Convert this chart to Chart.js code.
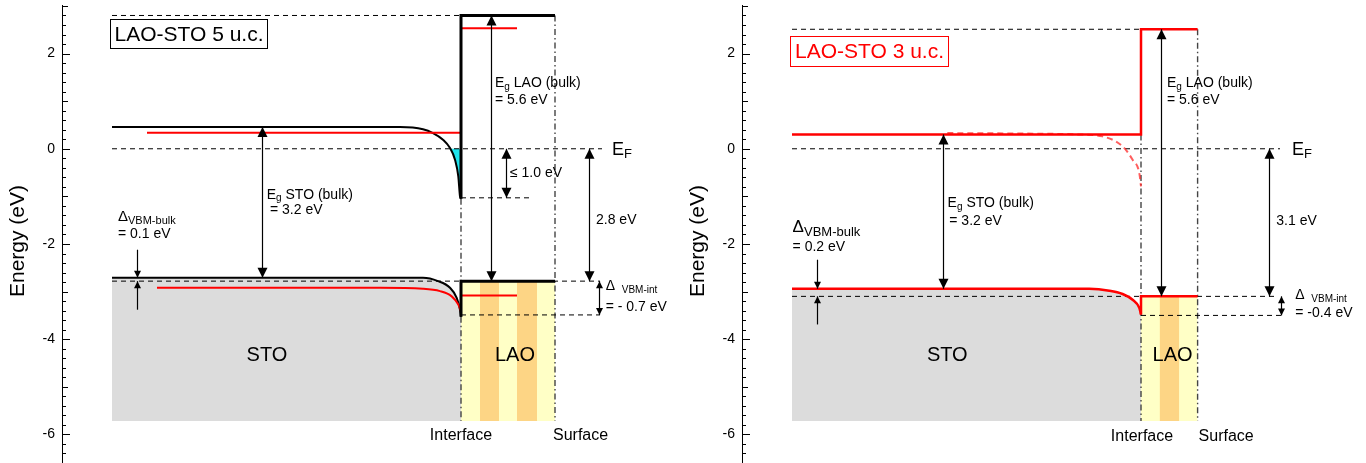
<!DOCTYPE html>
<html>
<head>
<meta charset="utf-8">
<script src="https://cdn.jsdelivr.net/npm/chart.js@4.4.1/dist/chart.umd.min.js"></script>
<style>
  body { margin:0; background:#fff; width:1366px; height:463px; overflow:hidden; position:relative; }
  canvas { position:absolute; top:0; }
  #c5 { left:0; }
  #c3 { left:680px; }
</style>
</head>
<body>
<canvas id="c5" width="683" height="463"></canvas>
<canvas id="c3" width="683" height="463"></canvas>
<script>
// Axe des énergies
const yTickLabels = [-6, -4, -2, 0, 2];
const yMin = -6.6, yMax = 3.02;
const bottomE = -5.72;   // bas du schéma

// ===== LAO-STO 5 u.c. (x = profondeur, interface à 0) =====
const a5_cbBlack  = [[-349,0.455],[-61,0.455],[-38,0.41],[-28,0.33],[-18,0.19],[-11,0.015],[-6,-0.23],[-2.7,-0.58],[-1,-1.0],[0,-1.05]];
const a5_cbRed    = [[-314,0.335],[0,0.335]];
const a5_laoCbRed = [[0,2.53],[56,2.53]];
const a5_laoCb    = [[94,2.8],[0,2.8],[0,-1.05]];
const a5_vbBlack  = [[-349,-2.71],[-38,-2.71],[-23,-2.78],[-11,-2.92],[-4.3,-3.13],[-1,-3.38],[0,-3.53]];
const a5_vbRed    = [[-304,-2.92],[-81,-2.92],[-38,-2.94],[-21,-2.99],[-9.3,-3.10],[-2.7,-3.27],[0,-3.41]];
const a5_laoVbRed = [[0,-3.08],[56,-3.08]];
const a5_laoVb    = [[94,-2.78],[0,-2.78],[0,-3.53]];
const a5_layers   = [0,19,38,56,76,94];
const a5_dashed   = [[[-349,2.8],[0,2.8]], [[-349,0],[141,0]], [[0,-1.03],[69,-1.03]], [[-349,-2.78],[139,-2.78]], [[0,-3.49],[139,-3.49]]];
const a5_dashDot  = [[[0,-1.05],[0,-2.78]], [[0,-3.53],[0,bottomE]], [[94,2.8],[94,bottomE]]];
const a5_electrons = a5_cbBlack.filter(p => p[0] >= -11).map(p => [p[0], Math.min(p[1], 0)]);

// ===== LAO-STO 3 u.c. =====
const a3_cbRed    = [[-349,0.30],[0,0.30],[0,2.51],[56.6,2.51]];
const a3_cbDash   = [[-193.7,0.33],[-121.7,0.32],[-61.7,0.30],[-38.4,0.26],[-18.4,0.05],[-8.4,-0.23],[-1.7,-0.51],[0,-0.79]];
const a3_vbRed    = [[-349,-2.94],[-51.7,-2.94],[-31.7,-2.98],[-18.4,-3.05],[-8.4,-3.17],[-1.7,-3.34],[0,-3.48]];
const a3_laoVbRed = [[0,-3.48],[0,-3.10],[56.6,-3.10]];
const a3_layers   = [0,18.6,38.3,56.6];
const a3_dashed   = [[[-349,2.51],[0,2.51]], [[-349,0],[139,0]], [[-349,-3.1],[134,-3.1]], [[0,-3.5],[141,-3.5]]];
const a3_dashDot  = [[[0,0.30],[0,bottomE]], [[56.6,2.51],[56.6,bottomE]]];

// ===== Flèches et textes (x, y en unités du graphe) =====
const a5_arrows = [
  {x:-199, y0:0.46, y1:-2.71}, {x:30, y0:2.8, y1:-2.78}, {x:44.7, y0:0, y1:-1.03},
  {x:128.3, y0:0, y1:-2.78}, {x:138, y0:-2.78, y1:-3.49, s:1},
  {x:-324, y0:-2.12, y1:-2.71, one:1, s:1}, {x:-324, y0:-3.38, y1:-2.78, one:1, s:1}
];
const a3_arrows = [
  {x:-198.4, y0:0.30, y1:-2.94}, {x:20, y0:2.51, y1:-3.10}, {x:127.6, y0:0, y1:-3.10},
  {x:140.3, y0:-3.10, y1:-3.50, s:1},
  {x:-324.4, y0:-2.33, y1:-2.94, one:1, s:1}, {x:-324.4, y0:-3.69, y1:-3.10, one:1, s:1}
];
const EgSTO = [['E'],['g',1],[' STO (bulk)']];
const EgLAO = [['E'],['g',1],[' LAO (bulk)']];
const EF = [['E'],['F',1]];
const dInt = [['Δ '],[' VBM-int',1]];
const dBulk = [['Δ'],['VBM-bulk',1]];
const a5_texts = [
  {x:-194.3, y:-0.965, t:EgSTO}, {x:-191, y:-1.28, t:'= 3.2 eV'},
  {x:-343, y:-1.43, t:dBulk, size:15}, {x:-343, y:-1.80, t:'= 0.1 eV'},
  {x:34, y:1.38, t:EgLAO}, {x:34, y:1.03, t:'= 5.6 eV'},
  {x:49, y:-0.51, t:'≤ 1.0 eV'}, {x:135, y:-1.49, t:'2.8 eV'},
  {x:151, y:-0.02, t:EF, size:18},
  {x:144.7, y:-2.89, t:dInt}, {x:144.7, y:-3.32, t:'= - 0.7 eV'},
  {x:-194, y:-4.34, t:'STO', size:20, align:'center'}, {x:54, y:-4.34, t:'LAO', size:20, align:'center'},
  {x:0, y:-6.03, t:'Interface', size:16, align:'center'}, {x:92, y:-6.03, t:'Surface', size:16}
];
const a3_texts = [
  {x:-193.4, y:-1.14, t:EgSTO}, {x:-191.7, y:-1.51, t:'= 3.2 eV'},
  {x:-348.4, y:-1.66, t:dBulk, size:17}, {x:-348.4, y:-2.07, t:'= 0.2 eV'},
  {x:26, y:1.38, t:EgLAO}, {x:26, y:1.03, t:'= 5.6 eV'},
  {x:151, y:-0.02, t:EF, size:18}, {x:135.3, y:-1.51, t:'3.1 eV'},
  {x:154.3, y:-3.08, t:dInt}, {x:154.3, y:-3.45, t:'= -0.4 eV'},
  {x:-193.7, y:-4.34, t:'STO', size:20, align:'center'}, {x:31.6, y:-4.34, t:'LAO', size:20, align:'center'},
  {x:1, y:-6.04, t:'Interface', size:16, align:'center'}, {x:57.6, y:-6.04, t:'Surface', size:16}
];
const a5_box = {x0:-351, x1:-194, y0:2.73, y1:2.12, text:'LAO-STO 5 u.c.', color:'#000'};
const a3_box = {x0:-351, x1:-192.7, y0:2.37, y1:1.74, text:'LAO-STO 3 u.c.', color:'#f00'};

const FONT = '"Liberation Sans", Arial, Helvetica, sans-serif';
const RED = '#ff0000', YELLOW = '#ffffc6', ORANGE = '#fdd585', GRAY = '#dcdcdc', CYAN = '#1fe3ec';

function pts(a) { return a.map(p => ({x:p[0], y:p[1]})); }
function line(a, color, width, extra) {
  return Object.assign({data:pts(a), borderColor:color, borderWidth:width, pointRadius:0, fill:false, tension:0, order:3, borderJoinStyle:'miter'}, extra || {});
}
function curve(a, color, width, extra) {
  return line(a, color, width, Object.assign({cubicInterpolationMode:'monotone'}, extra || {}));
}
function area(a, color, extra) {
  return Object.assign({data:pts(a), borderWidth:0, borderColor:'rgba(0,0,0,0)', backgroundColor:color,
    pointRadius:0, fill:{value:bottomE}, order:9}, extra || {});
}
function guides(list, dash, color, width) {
  return list.map(a => line(a, color, width, {borderDash:dash, order:6}));
}
function layers(bounds, top) {
  const out = [area([[bounds[0], top], [bounds[bounds.length-1], top]], YELLOW)];
  for (let i = 1; i < bounds.length - 1; i += 2)
    out.push(area([[bounds[i], top], [bounds[i+1], top]], ORANGE, {order:8}));
  return out;
}

// ---- dessin des annotations ----
function rich(ctx, px, py, parts, size, align, color) {
  if (typeof parts === 'string') parts = [[parts]];
  const sub = Math.round(size * 0.74);
  let w = 0;
  parts.forEach(p => { ctx.font = (p[1] ? sub : size) + 'px ' + FONT; w += ctx.measureText(p[0]).width; });
  let cx = align === 'center' ? px - w / 2 : (align === 'right' ? px - w : px);
  ctx.textAlign = 'left'; ctx.textBaseline = 'middle'; ctx.fillStyle = color;
  parts.forEach(p => {
    ctx.font = (p[1] ? sub : size) + 'px ' + FONT;
    ctx.fillText(p[0], cx, py + (p[1] ? size * 0.28 : 0));
    cx += ctx.measureText(p[0]).width;
  });
}
function head(ctx, px, py, dir, w, l) {
  ctx.beginPath();
  ctx.moveTo(px, py);
  ctx.lineTo(px - w / 2, py - dir * l);
  ctx.lineTo(px + w / 2, py - dir * l);
  ctx.closePath(); ctx.fill();
}

const annot = {
  id: 'annot',
  afterDatasetsDraw(chart, args, opts) {
    const {ctx, chartArea} = chart;
    const X = v => chart.scales.x.getPixelForValue(v), Y = v => chart.scales.y.getPixelForValue(v);
    ctx.save();
    // graduations vers l'intérieur + étiquettes
    ctx.strokeStyle = '#000'; ctx.lineWidth = 1;
    const ax = chartArea.left;
    for (let k = Math.ceil(yMin / 0.2); k <= Math.floor(yMax / 0.2); k++) {
      const len = k % 10 === 0 ? 8 : (k % 5 === 0 ? 6 : 4);
      const py = Math.round(Y(k * 0.2)) + 0.5;
      ctx.beginPath(); ctx.moveTo(ax, py); ctx.lineTo(ax + len, py); ctx.stroke();
    }
    yTickLabels.forEach(v => rich(ctx, ax - 7, Y(v), String(v), 14, 'right', '#000'));
    // titre de l'axe
    ctx.save();
    ctx.translate(18.5, 241); ctx.rotate(-Math.PI / 2);
    ctx.font = '21px ' + FONT; ctx.fillStyle = '#000'; ctx.textAlign = 'center'; ctx.textBaseline = 'middle';
    ctx.fillText('Energy (eV)', 0, 0);
    ctx.restore();
    // flèches
    ctx.fillStyle = '#000'; ctx.strokeStyle = '#000'; ctx.lineWidth = 1.2;
    opts.arrows.forEach(a => {
      const px = Math.round(X(a.x)) + 0.5, p0 = Y(a.y0), p1 = Y(a.y1);
      const w = a.s ? 7 : 10, l = a.s ? 7 : 10;
      ctx.beginPath(); ctx.moveTo(px, p0); ctx.lineTo(px, p1); ctx.stroke();
      const dir = p1 > p0 ? 1 : -1;
      head(ctx, px, p1, dir, w, l);
      if (!a.one) head(ctx, px, p0, -dir, w, l);
    });
    // textes
    opts.texts.forEach(t => rich(ctx, X(t.x), Y(t.y), t.t, t.size || 14, t.align, '#000'));
    // cadre du titre
    const b = opts.box;
    const bx = Math.round(X(b.x0)) + 0.5, by = Math.round(Y(b.y0)) + 0.5;
    const bw = Math.round(X(b.x1) - X(b.x0)), bh = Math.round(Y(b.y1) - Y(b.y0));
    ctx.fillStyle = '#fff'; ctx.fillRect(bx, by, bw, bh);
    ctx.strokeStyle = b.color; ctx.lineWidth = 1; ctx.strokeRect(bx, by, bw, bh);
    rich(ctx, bx + bw / 2, by + bh / 2 + 1, b.text, 21, 'center', b.color);
    ctx.restore();
  }
};

function makeChart(id, datasets, arrows, texts, box) {
  return new Chart(document.getElementById(id), {
    type: 'line',
    data: { datasets: datasets },
    options: {
      responsive: false, animation: false, events: [],
      layout: { padding: { top: 5, right: 0, bottom: 0, left: 0 } },
      plugins: { legend: { display: false }, tooltip: { enabled: false }, annot: { arrows, texts, box } },
      scales: {
        x: { type: 'linear', min: -399, max: 222, display: false },
        y: {
          type: 'linear', min: yMin, max: yMax,
          afterFit(s) { s.width = 62; },
          grid: { display: false, drawTicks: false },
          border: { display: true, color: '#000', width: 1 },
          ticks: { display: false }
        }
      }
    },
    plugins: [annot]
  });
}

const dash = [5, 4], dashDot = [6, 3, 1.5, 3];

makeChart('c5', [
  area(a5_vbBlack, GRAY, { cubicInterpolationMode: 'monotone' }),
  ...layers(a5_layers, a5_laoVb[0][1]),
  Object.assign(area(a5_electrons, CYAN, { cubicInterpolationMode: 'monotone', order: 8 }), { fill: { value: 0 } }),
  ...guides(a5_dashed, dash, '#000', 1),
  ...guides(a5_dashDot, dashDot, '#444', 1.4),
  curve(a5_cbBlack, '#000', 2, { order: 3 }),
  curve(a5_vbBlack, '#000', 2, { order: 3 }),
  line(a5_cbRed, RED, 2, { order: 2 }),
  curve(a5_vbRed, RED, 2, { order: 2 }),
  line(a5_laoCbRed, RED, 2, { order: 2 }),
  line(a5_laoVbRed, RED, 2, { order: 2 }),
  line(a5_laoCb, '#000', 3, { order: 1 }),
  line(a5_laoVb, '#000', 3, { order: 1 })
], a5_arrows, a5_texts, a5_box);

makeChart('c3', [
  area(a3_vbRed, GRAY, { cubicInterpolationMode: 'monotone' }),
  ...layers(a3_layers, a3_laoVbRed[1][1]),
  ...guides(a3_dashed, dash, '#000', 1),
  ...guides(a3_dashDot, dashDot, '#444', 1.4),
  curve(a3_cbDash, 'rgba(255,40,40,0.75)', 2, { borderDash: [6, 4], order: 4 }),
  line(a3_cbRed, RED, 2.5, { order: 1 }),
  curve(a3_vbRed, RED, 2.5, { order: 1 }),
  line(a3_laoVbRed, RED, 2.5, { order: 1 })
], a3_arrows, a3_texts, a3_box);
</script>
</body>
</html>
